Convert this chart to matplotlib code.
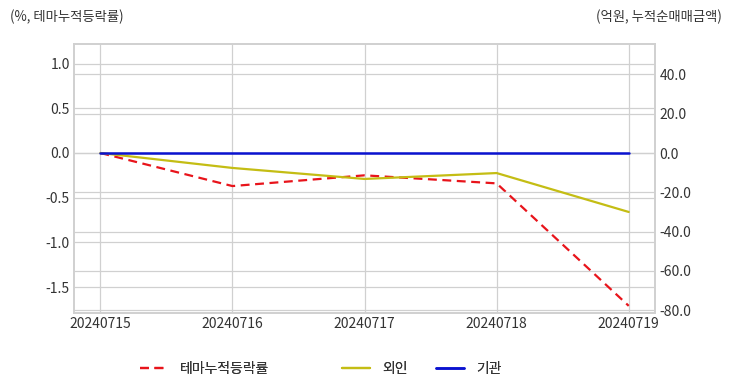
import matplotlib
matplotlib.use("Agg")
from matplotlib import pyplot as plt
import seaborn as sns

dates = ["20240715", "20240716", "20240717", "20240718", "20240719"]
theme_rate = [0.0, -0.37, -0.25, -0.34, -1.71]  # 테마누적등락률 (%)
foreign = [0.0, -7.6, -13.2, -10.2, -30.0]  # 외인 (억원)
institution = [0.0, 0.0, 0.0, 0.0, 0.0]  # 기관 (억원)

sns.set_style("whitegrid")
plt.rcParams['font.family'] = ['Noto Sans CJK KR', 'DejaVu Sans']
plt.rcParams['axes.unicode_minus'] = False

grid_c = "#d0d0d0"
text_c = "#333333"

fig = plt.figure(figsize=(7.32, 3.92), dpi=100)
ax = fig.add_axes([0.101, 0.2015, 0.794, 0.6865])
ax2 = ax.twinx()

x = list(range(len(dates)))
l1, = ax.plot(x, theme_rate, color="#e8141b", linestyle=(0, (4, 2.5)), linewidth=1.6,
              label="테마누적등락률")
l2, = ax2.plot(x, foreign, color="#c4bd14", linewidth=1.6, label="외인")
l3, = ax2.plot(x, institution, color="#0a12d0", linewidth=1.8, label="기관")

ax.set_xlim(-0.2, 4.2)
ax.set_ylim(-1.79, 1.22)
ax2.set_ylim(-81.4, 55.5)
ax.set_yticks([-1.5, -1.0, -0.5, 0.0, 0.5, 1.0])
ax.set_yticklabels([f"{v:.1f}" for v in [-1.5, -1.0, -0.5, 0.0, 0.5, 1.0]])
ax2.set_yticks([-80, -60, -40, -20, 0, 20, 40])
ax2.set_yticklabels([f"{v:.1f}" for v in [-80, -60, -40, -20, 0, 20, 40]])
ax.set_xticks(x)
ax.set_xticklabels(dates)

for a in (ax, ax2):
    a.grid(True, color=grid_c, linewidth=0.9)
    a.tick_params(colors=text_c, labelsize=10, length=0, pad=3)
    for s in a.spines.values():
        s.set_color(grid_c)
        s.set_linewidth(1.2)
ax2.grid(axis="x", visible=False)

fig.text(0.014, 0.958, "(%, 테마누적등락률)", fontsize=9.6, color=text_c, va="center")
fig.text(0.986, 0.958, "(억원, 누적순매매금액)", fontsize=9.6, color=text_c, va="center", ha="right")

# legend entries placed one by one, the original spacing is uneven
for h, lx in [(l1, 140), (l2, 342), (l3, 436)]:
    leg = fig.legend(handles=[h], loc="center left", bbox_to_anchor=(lx / 732, 0.058),
                     frameon=False, fontsize=10, labelcolor=text_c, handlelength=2.0,
                     handletextpad=0.9, borderpad=0, borderaxespad=0)
    fig.add_artist(leg)

fig.savefig("out.png", dpi=100)
